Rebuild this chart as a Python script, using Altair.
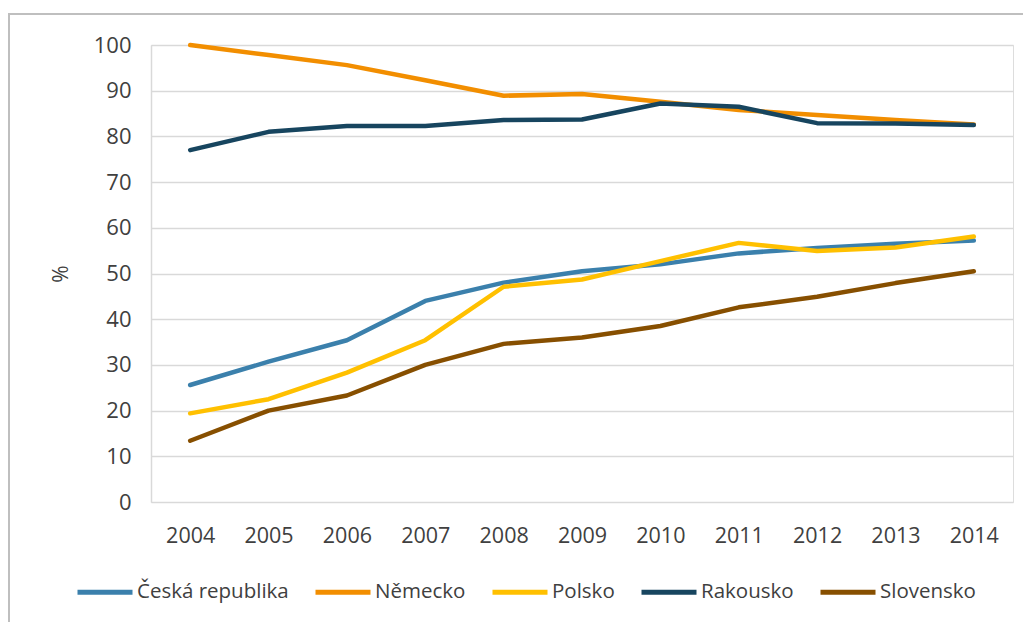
import altair as alt
import pandas as pd

years = ["2004", "2005", "2006", "2007", "2008", "2009", "2010", "2011", "2012", "2013", "2014"]
series_names = ["Česká republika", "Německo", "Polsko", "Rakousko", "Slovensko"]
ceska = [25.6, 30.7, 35.4, 44.0, 48.0, 50.5, 52.0, 54.4, 55.6, 56.5, 57.2]
nemecko = [100.0, 97.8, 95.6, 92.3, 88.9, 89.3, 87.6, 85.8, 84.7, 83.6, 82.6]
polsko = [19.4, 22.5, 28.3, 35.4, 47.1, 48.7, 52.7, 56.7, 54.9, 55.7, 58.1]
rakousko = [77.0, 81.0, 82.3, 82.3, 83.6, 83.7, 87.2, 86.5, 82.9, 82.8, 82.5]
slovensko = [13.4, 20.0, 23.3, 30.0, 34.6, 36.0, 38.5, 42.6, 44.9, 47.9, 50.5]
colors = ["#3B80AC", "#F28E00", "#FFC000", "#17455F", "#874F00"]

rows = []
for name, vals in zip(series_names, [ceska, nemecko, polsko, rakousko, slovensko]):
    for y, v in zip(years, vals):
        rows.append({"Rok": y, "Země": name, "Hodnota": v})
df = pd.DataFrame(rows)

font = "Open Sans"

lines = alt.Chart(df).mark_line(strokeWidth=4.5, strokeCap="round", strokeJoin="round").encode(
    x=alt.X("Rok:O", sort=years, title=None,
            scale=alt.Scale(paddingInner=1, paddingOuter=0.5),
            axis=alt.Axis(labelAngle=0, ticks=False, domain=False, grid=False,
                          labelFont=font, labelFontSize=21.5, labelColor="#404040",
                          labelPadding=23)),
    y=alt.Y("Hodnota:Q", title="%", scale=alt.Scale(domain=[0, 100]),
            axis=alt.Axis(values=list(range(0, 101, 10)), ticks=False,
                          domain=True, domainColor="#D9D9D9", domainWidth=1.5,
                          gridColor="#D9D9D9", gridWidth=1.5,
                          labelFont=font, labelFontSize=22, labelColor="#404040",
                          labelPadding=20,
                          titleFont=font, titleFontSize=21, titleFontWeight="normal",
                          titleColor="#404040", titlePadding=22)),
    color=alt.Color("Země:N", sort=series_names,
                    scale=alt.Scale(domain=series_names, range=colors),
                    legend=alt.Legend(orient="none", legendX=-76, legendY=517,
                                      direction="horizontal", title=None,
                                      symbolType="stroke", symbolSize=3025,
                                      symbolStrokeWidth=5, labelFont=font,
                                      labelFontSize=20.5, labelColor="#404040",
                                      labelLimit=400,
                                      labelOffset=2, columnPadding=16)),
)

frame = alt.Chart(pd.DataFrame({"a": [0]})).mark_rect(
    fill=None, stroke="#BFBFBF", strokeWidth=2
).encode(x=alt.value(-142), x2=alt.value(1200), y=alt.value(-31), y2=alt.value(700))

chart = alt.layer(frame, lines).properties(
    width=862, height=457,
    autosize=alt.AutoSizeParams(type="none"),
    padding={"left": 143, "top": 37, "right": 10, "bottom": 120},
).configure_view(stroke=None).configure(background="white")

chart.save("out.html", embed_options={"renderer": "svg", "actions": False})
